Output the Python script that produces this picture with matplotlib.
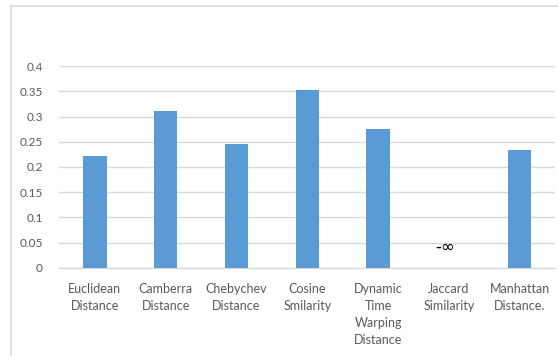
import matplotlib
matplotlib.use("Agg")
import matplotlib.pyplot as plt
from matplotlib.patches import Rectangle
import numpy as np

categories = ["Euclidean\nDistance", "Camberra\nDistance", "Chebychev\nDistance",
              "Cosine\nSmilarity", "Dynamic\nTime\nWarping\nDistance",
              "Jaccard\nSimilarity", "Manhattan\nDistance."]
values = [0.222, 0.310, 0.245, 0.352, 0.276, -np.inf, 0.233]
value_labels = [None, None, None, None, None, "-∞", None]
yticks = [0, 0.05, 0.1, 0.15, 0.2, 0.25, 0.3, 0.35, 0.4]
ytick_labels = ["0", "0.05", "0.1", "0.15", "0.2", "0.25", "0.3", "0.35", "0.4"]

plt.rcParams["font.family"] = ["Lato", "DejaVu Sans"]

fig = plt.figure(figsize=(5.58, 3.56), dpi=100)
fig.patch.set_facecolor("white")

# chart frame
fig.patches.append(Rectangle((11 / 558, -0.1), 1.2, 1 - 6 / 356 + 0.1,
                             transform=fig.transFigure, fill=False,
                             edgecolor="#D9D9D9", linewidth=1.2))

ax = fig.add_axes([0.1066, 0.2472, 0.8884, 0.5674])
x = np.arange(len(categories))
finite = np.where(np.isfinite(values), values, 0.0)
ax.bar(x, finite, width=0.33, color="#5B9BD5", zorder=3)

for xi, lab in zip(x, value_labels):
    if lab:
        ax.text(xi - 0.06, 0.042, lab, ha="center", va="center",
                fontsize=12, color="black",
                family=["DejaVu Sans"], zorder=4)

ax.set_xlim(-0.5, len(categories) - 0.5)
ax.set_ylim(0, 0.4)
ax.set_yticks(yticks)
ax.set_yticklabels(ytick_labels)
ax.yaxis.grid(True, color="#D9D9D9", linewidth=1, zorder=0)
ax.set_axisbelow(True)
ax.set_xticks(x)
ax.set_xticklabels(categories, linespacing=1.5)
ax.tick_params(axis="both", length=0, colors="#595959")
ax.tick_params(axis="y", pad=12, labelsize=8.5)
ax.tick_params(axis="x", pad=11, labelsize=9)
for side in ["top", "right", "left"]:
    ax.spines[side].set_visible(False)
ax.spines["bottom"].set_color("#D9D9D9")
ax.spines["bottom"].set_linewidth(1)

fig.savefig("out.png", dpi=100)
